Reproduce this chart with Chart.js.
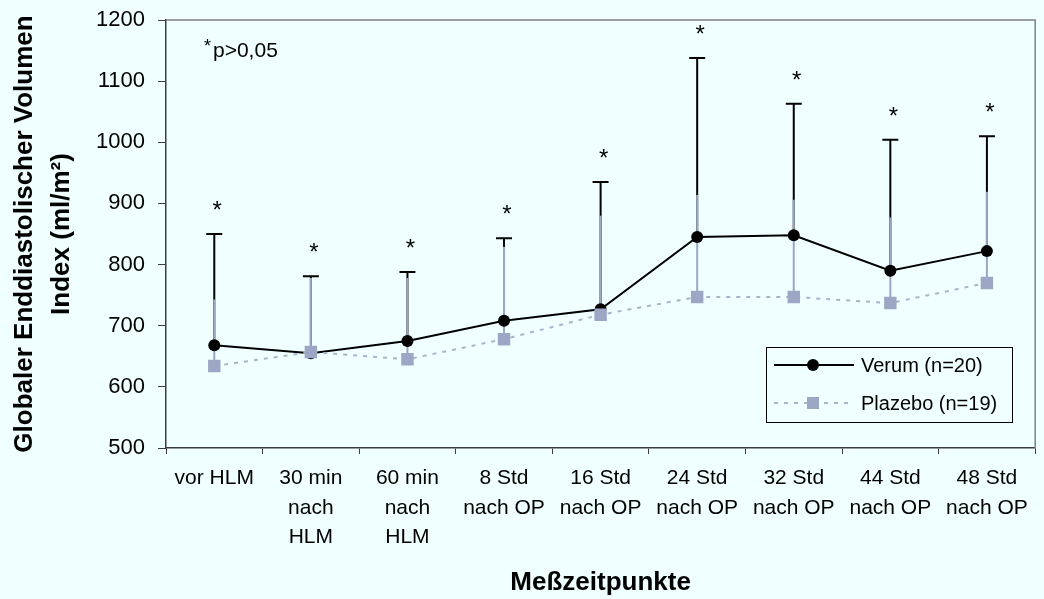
<!DOCTYPE html>
<html>
<head>
<meta charset="utf-8">
<script src="https://cdn.jsdelivr.net/npm/chart.js@4/dist/chart.umd.min.js"></script>
<style>
  html, body { margin: 0; padding: 0; background: #f0ffff; }
  canvas { display: block; }
</style>
</head>
<body>
<canvas id="chart" width="1044" height="599"></canvas>
<script>
// Messzeitpunkte (multi-line category labels)
const categories = [
  ['vor HLM'],
  ['30 min', 'nach', 'HLM'],
  ['60 min', 'nach', 'HLM'],
  ['8 Std', 'nach OP'],
  ['16 Std', 'nach OP'],
  ['24 Std', 'nach OP'],
  ['32 Std', 'nach OP'],
  ['44 Std', 'nach OP'],
  ['48 Std', 'nach OP']
];

// GEDVI means and mean + SD (ml/m²)
const verumMean    = [668, 655, 675, 708, 727, 845, 848, 790, 822];
const verumUpper   = [850, 781, 788, 843, 935, 1138, 1063, 1004, 1010];
const plazeboMean  = [634, 657, 645, 678, 718, 747, 747, 737, 770];
const plazeboUpper = [743, 778, 778, 829, 880, 914, 906, 877, 919];

// p > 0,05 marker per time point
const notSignificant = [true, true, true, true, true, true, true, true, true];

const yTicks = [500, 600, 700, 800, 900, 1000, 1100, 1200];

const FONT = '"Liberation Sans", Arial, Helvetica, sans-serif';
const BG = '#f0ffff';
const AXIS = '#3c3c3c';
const VERUM_COLOR = '#000000';
const PLAZEBO_LINE = '#aab3cd';
const PLAZEBO_MARK = '#9da7c5';

function noScalePadding(scale) {
  scale.paddingTop = 0;
  scale.paddingBottom = 0;
  scale.paddingLeft = 0;
  scale.paddingRight = 0;
}

// Error bars (upper SD only), drawn beneath the series
const errorBars = {
  id: 'errorBars',
  beforeDatasetsDraw(chart) {
    const { ctx, scales: { x, y } } = chart;
    ctx.save();
    ctx.lineCap = 'butt';
    verumMean.forEach((m, i) => {
      const px = x.getPixelForValue(i);
      const top = y.getPixelForValue(verumUpper[i]);
      ctx.strokeStyle = VERUM_COLOR;
      ctx.lineWidth = 2;
      ctx.beginPath();
      ctx.moveTo(px, y.getPixelForValue(m));
      ctx.lineTo(px, top);
      ctx.moveTo(px - 8, top);
      ctx.lineTo(px + 8, top);
      ctx.stroke();
    });
    plazeboMean.forEach((m, i) => {
      const px = x.getPixelForValue(i);
      ctx.strokeStyle = PLAZEBO_MARK;
      ctx.lineWidth = 2;
      ctx.beginPath();
      ctx.moveTo(px, y.getPixelForValue(m));
      ctx.lineTo(px, y.getPixelForValue(plazeboUpper[i]));
      ctx.stroke();
    });
    ctx.restore();
  }
};

// Frame, significance stars, note and boxed legend
const decorations = {
  id: 'decorations',
  afterDraw(chart) {
    const { ctx, chartArea: a, scales: { x, y } } = chart;
    ctx.save();

    // top and right frame lines
    ctx.strokeStyle = '#808080';
    ctx.lineWidth = 1.5;
    ctx.beginPath();
    ctx.moveTo(a.left, a.top);
    ctx.lineTo(a.right, a.top);
    ctx.lineTo(a.right, a.bottom);
    ctx.stroke();

    // stars above the Verum SD caps
    ctx.fillStyle = '#000';
    ctx.textAlign = 'center';
    ctx.textBaseline = 'alphabetic';
    ctx.font = '24px ' + FONT;
    notSignificant.forEach((flag, i) => {
      if (!flag) return;
      const px = x.getPixelForValue(i) + 3;
      const cy = y.getPixelForValue(verumUpper[i]) - 30;
      ctx.fillText('*', px, cy + 14);
    });

    // note
    ctx.textAlign = 'left';
    ctx.font = '18px ' + FONT;
    ctx.fillText('*', a.left + 38, 52);
    ctx.font = '21px ' + FONT;
    ctx.fillText('p>0,05', a.left + 47, 57);

    // legend box
    const lx = 766, ly = 347, lw = 246, lh = 75;
    ctx.fillStyle = BG;
    ctx.fillRect(lx, ly, lw, lh);
    ctx.strokeStyle = '#000';
    ctx.lineWidth = 1;
    ctx.strokeRect(lx + 0.5, ly + 0.5, lw, lh);

    const rows = chart.data.datasets.map((ds, k) => ({ ds, yy: ly + 18 + k * 38 }));
    rows.forEach(({ ds, yy }) => {
      ctx.save();
      ctx.strokeStyle = ds.borderColor;
      ctx.lineWidth = ds.borderWidth;
      ctx.setLineDash(ds.borderDash || []);
      ctx.beginPath();
      ctx.moveTo(lx + 8, yy);
      ctx.lineTo(lx + 88, yy);
      ctx.stroke();
      ctx.restore();
      ctx.fillStyle = ds.pointBackgroundColor;
      const cx = lx + 47;
      if (ds.pointStyle === 'rect') {
        ctx.fillRect(cx - 6, yy - 6, 12, 12);
      } else {
        ctx.beginPath();
        ctx.arc(cx, yy, 6, 0, Math.PI * 2);
        ctx.fill();
      }
      ctx.fillStyle = '#000';
      ctx.font = '20px ' + FONT;
      ctx.textBaseline = 'middle';
      ctx.fillText(ds.label, lx + 95, yy + 1);
    });
    ctx.restore();
  }
};

new Chart(document.getElementById('chart'), {
  type: 'line',
  data: {
    labels: categories,
    datasets: [
      {
        label: 'Verum (n=20)',
        data: verumMean,
        borderColor: VERUM_COLOR,
        borderWidth: 2,
        pointStyle: 'circle',
        pointRadius: 6,
        pointBorderWidth: 0,
        pointBackgroundColor: VERUM_COLOR,
        pointBorderColor: VERUM_COLOR,
        tension: 0,
        order: 1
      },
      {
        label: 'Plazebo (n=19)',
        data: plazeboMean,
        borderColor: PLAZEBO_LINE,
        borderWidth: 2,
        borderDash: [4, 6],
        pointStyle: 'rect',
        pointRadius: 8.8,
        pointBorderWidth: 0,
        pointBackgroundColor: PLAZEBO_MARK,
        pointBorderColor: PLAZEBO_MARK,
        tension: 0,
        order: 0
      }
    ]
  },
  options: {
    responsive: false,
    animation: false,
    devicePixelRatio: 1,
    layout: { padding: { left: 0, right: 1, top: 20, bottom: 0 } },
    plugins: {
      legend: { display: false },
      tooltip: { enabled: false }
    },
    scales: {
      x: {
        offset: true,
        grid: {
          offset: true,
          drawOnChartArea: false,
          drawTicks: true,
          tickLength: 6,
          color: AXIS,
          lineWidth: 1
        },
        border: { display: true, color: AXIS, width: 1.5 },
        ticks: {
          autoSkip: false,
          maxRotation: 0,
          minRotation: 0,
          padding: 10,
          color: '#000',
          font: { family: FONT, size: 21, lineHeight: 1.4 }
        },
        title: {
          display: true,
          text: 'Meßzeitpunkte',
          color: '#000',
          font: { family: FONT, size: 26, weight: 'bold', lineHeight: 1.2 },
          padding: { top: 0, bottom: 1 }
        },
        afterFit(scale) { scale.height = 151; noScalePadding(scale); }
      },
      y: {
        min: 500,
        max: 1200,
        afterBuildTicks(scale) { scale.ticks = yTicks.map(v => ({ value: v })); },
        grid: {
          drawOnChartArea: false,
          drawTicks: true,
          tickLength: 8,
          color: AXIS,
          lineWidth: 1
        },
        border: { display: true, color: AXIS, width: 1.5 },
        ticks: {
          padding: 13,
          color: '#000',
          font: { family: FONT, size: 22 },
          callback: (v) => String(v)
        },
        title: {
          display: true,
          text: ['Globaler Enddiastolischer Volumen', 'Index (ml/m²)'],
          color: '#000',
          font: { family: FONT, size: 26, weight: 'bold', lineHeight: 1.4 },
          padding: { top: 7, bottom: 0 }
        },
        afterFit(scale) { scale.width = 166; noScalePadding(scale); }
      }
    }
  },
  plugins: [errorBars, decorations]
});
</script>
</body>
</html>
